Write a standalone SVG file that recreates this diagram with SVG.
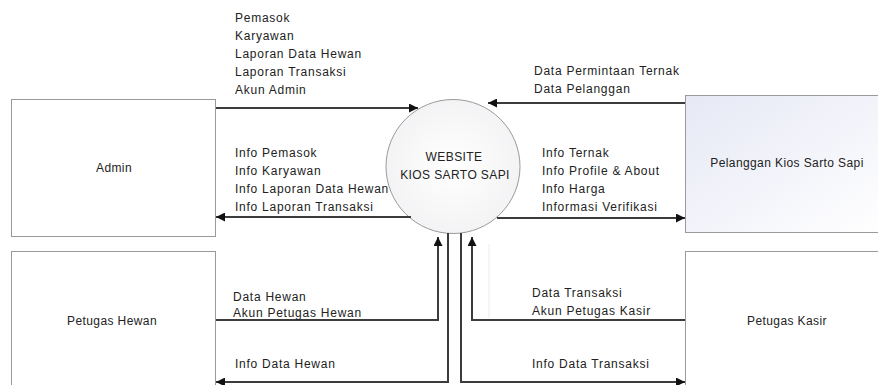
<svg xmlns="http://www.w3.org/2000/svg" width="878" height="385" viewBox="0 0 878 385">
<defs>
<linearGradient id="gPel" x1="0" y1="0" x2="1" y2="1">
<stop offset="0" stop-color="#e6e8f5"/>
<stop offset="1" stop-color="#ffffff"/>
</linearGradient>
<radialGradient id="gCir" cx="0.5" cy="0.5" r="0.6">
<stop offset="0" stop-color="#ffffff"/>
<stop offset="1" stop-color="#f1f1f3"/>
</radialGradient>
<marker id="arr" viewBox="0 0 10 10" refX="10" refY="5" markerWidth="10" markerHeight="9" markerUnits="userSpaceOnUse" orient="auto">
<path d="M0,0 L10,5 L0,10 Z" fill="#111"/>
</marker>
<style>
.box{fill:#ffffff;stroke:#9a9a9a;stroke-width:1}
.lbl{font-family:"Liberation Sans",Arial,sans-serif;font-size:12px;letter-spacing:0.75px;fill:#222}
.node{font-family:"Liberation Sans",Arial,sans-serif;font-size:12px;letter-spacing:0.4px;fill:#222;text-anchor:middle}
.con{fill:none;stroke:#3c3c3c;stroke-width:2}
</style>
</defs>
<rect width="878" height="385" fill="#ffffff"/>

<g id="admin">
<rect class="box" x="11.5" y="99.5" width="204" height="137"/>
<text class="node" x="114" y="172">Admin</text>
</g>
<g id="petugas-hewan">
<rect class="box" x="11.5" y="251.5" width="204" height="140"/>
<text class="node" x="112" y="325">Petugas Hewan</text>
</g>
<g id="pelanggan">
<rect x="685.5" y="95.5" width="200" height="137" fill="url(#gPel)" stroke="#9a9a9a" stroke-width="1"/>
<text class="node" x="787" y="167">Pelanggan Kios Sarto Sapi</text>
</g>
<g id="petugas-kasir">
<rect class="box" x="685.5" y="251.5" width="200" height="140"/>
<text class="node" x="787" y="325">Petugas Kasir</text>
</g>
<g id="website">
<circle cx="453" cy="166.5" r="67" fill="url(#gCir)" stroke="#9a9a9a" stroke-width="1"/>
<text class="node" x="454" y="161">WEBSITE</text>
<text class="node" x="455" y="179">KIOS SARTO SAPI</text>
</g>

<g id="connectors">
<line x1="489" y1="244" x2="489" y2="318" stroke="#ececf2" stroke-width="1"/>
<line class="con" x1="216" y1="108" x2="418" y2="108" marker-end="url(#arr)"/>
<line class="con" x1="411" y1="217" x2="216" y2="217" marker-end="url(#arr)"/>
<line class="con" x1="685" y1="103" x2="488" y2="103" marker-end="url(#arr)"/>
<line class="con" x1="497" y1="218" x2="685" y2="218" marker-end="url(#arr)"/>
<polyline class="con" points="216,320 438,320 438,237" marker-end="url(#arr)"/>
<polyline class="con" points="448,233 448,382 216,382" marker-end="url(#arr)"/>
<polyline class="con" points="461,233 461,382 685,382" marker-end="url(#arr)"/>
<polyline class="con" points="685,320 472,320 472,237" marker-end="url(#arr)"/>
</g>

<g id="labels">
<text class="lbl" x="235" y="22">Pemasok</text>
<text class="lbl" x="235" y="40">Karyawan</text>
<text class="lbl" x="235" y="58">Laporan Data Hewan</text>
<text class="lbl" x="235" y="76">Laporan Transaksi</text>
<text class="lbl" x="235" y="94">Akun Admin</text>
<text class="lbl" x="235" y="157">Info Pemasok</text>
<text class="lbl" x="235" y="175">Info Karyawan</text>
<text class="lbl" x="235" y="193">Info Laporan Data Hewan</text>
<text class="lbl" x="235" y="211">Info Laporan Transaksi</text>
<text class="lbl" x="534" y="75">Data Permintaan Ternak</text>
<text class="lbl" x="534" y="93">Data Pelanggan</text>
<text class="lbl" x="542" y="157">Info Ternak</text>
<text class="lbl" x="542" y="175">Info Profile &amp; About</text>
<text class="lbl" x="542" y="193">Info Harga</text>
<text class="lbl" x="542" y="211">Informasi Verifikasi</text>
<text class="lbl" x="233" y="301">Data Hewan</text>
<text class="lbl" x="233" y="317">Akun Petugas Hewan</text>
<text class="lbl" x="235" y="368">Info Data Hewan</text>
<text class="lbl" x="532" y="297">Data Transaksi</text>
<text class="lbl" x="532" y="315">Akun Petugas Kasir</text>
<text class="lbl" x="532" y="368">Info Data Transaksi</text>
</g>
</svg>
